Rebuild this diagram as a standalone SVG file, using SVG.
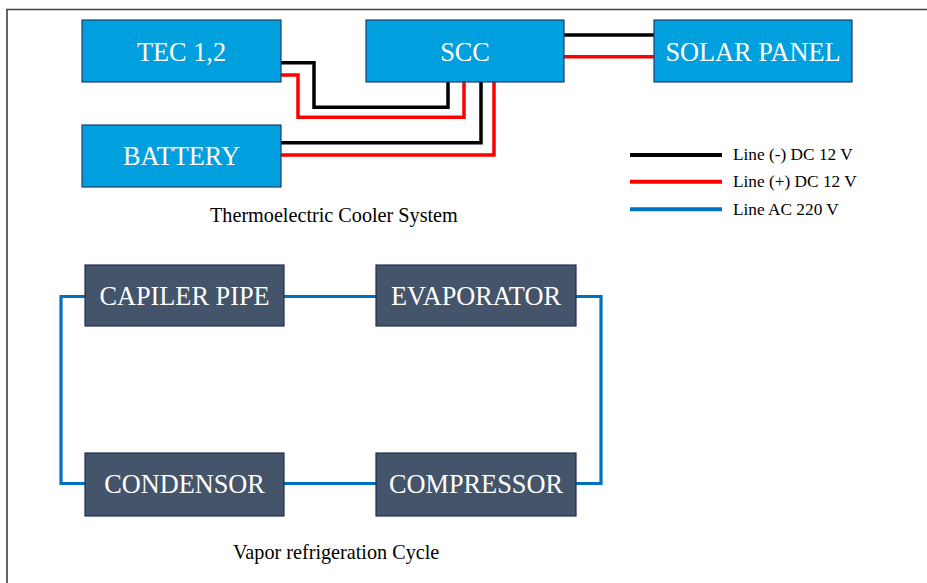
<svg xmlns="http://www.w3.org/2000/svg" width="927" height="583" viewBox="0 0 927 583">
<style>
.bg{fill:#fff}
.frame{fill:none;stroke:#404040;stroke-width:1.6}
.bbox{fill:#009FDE;stroke:#1F3F6E;stroke-width:1.2}
.dbox{fill:#44546A;stroke:#1F3055;stroke-width:1.2}
.lbl{font-family:"Liberation Serif","Times New Roman",serif;font-size:26.3px;fill:#fff;text-anchor:middle}
.cap{font-family:"Liberation Serif","Times New Roman",serif;font-size:20.2px;fill:#000}
.leg{font-family:"Liberation Serif","Times New Roman",serif;font-size:17.3px;fill:#000}
.neg{fill:none;stroke:#000;stroke-width:3.5}
.pos{fill:none;stroke:#FF0000;stroke-width:3.5}
.ac{fill:none;stroke:#0070C0;stroke-width:3.2}
</style>
<rect class="bg" x="0" y="0" width="927" height="583"/>
<path class="frame" d="M7,583 V9.5 H927"/>
<g id="connectors">
  <path class="neg" d="M281,62.7 H314 V107.3 H448 V82"/>
  <path class="pos" d="M281,75 H298 V117.3 H464 V82"/>
  <path class="neg" d="M281,142.7 H481 V82"/>
  <path class="pos" d="M281,155 H494 V82"/>
  <path class="neg" d="M564,35 H654"/>
  <path class="pos" d="M564,56.7 H654"/>
  <path class="ac" d="M85,296.5 H61 V483.5 H85"/>
  <path class="ac" d="M284,296.5 H376"/>
  <path class="ac" d="M576,296.5 H601 V483.5 H576"/>
  <path class="ac" d="M284,483.5 H376"/>
</g>
<g id="tec"><rect class="bbox" x="82" y="20" width="199" height="62"/><text class="lbl" x="181.5" y="60.5">TEC 1,2</text></g>
<g id="scc"><rect class="bbox" x="366" y="20" width="198" height="62"/><text class="lbl" x="465" y="60.5">SCC</text></g>
<g id="solar"><rect class="bbox" x="654" y="20" width="198" height="62"/><text class="lbl" x="753" y="60.5">SOLAR PANEL</text></g>
<g id="battery"><rect class="bbox" x="82" y="125" width="199" height="62"/><text class="lbl" x="181.5" y="165">BATTERY</text></g>
<g id="legend">
  <line class="neg" x1="630" y1="155" x2="722" y2="155" style="stroke-width:4"/>
  <line class="pos" x1="630" y1="181.7" x2="722" y2="181.7" style="stroke-width:4"/>
  <line class="ac" x1="630" y1="209.3" x2="722" y2="209.3" style="stroke-width:4"/>
  <text class="leg" x="733" y="160">Line (-) DC 12 V</text>
  <text class="leg" x="733" y="187">Line (+) DC 12 V</text>
  <text class="leg" x="733" y="215">Line AC 220 V</text>
</g>
<text id="cap1" class="cap" x="210" y="222">Thermoelectric Cooler System</text>
<g id="capiler"><rect class="dbox" x="85" y="265" width="199" height="61"/><text class="lbl" x="184.5" y="305">CAPILER PIPE</text></g>
<g id="evaporator"><rect class="dbox" x="376" y="265" width="200" height="61"/><text class="lbl" x="476" y="305">EVAPORATOR</text></g>
<g id="condensor"><rect class="dbox" x="85" y="453" width="199" height="63"/><text class="lbl" x="184.5" y="493">CONDENSOR</text></g>
<g id="compressor"><rect class="dbox" x="376" y="453" width="200" height="63"/><text class="lbl" x="476" y="493">COMPRESSOR</text></g>
<text id="cap2" class="cap" x="233" y="559">Vapor refrigeration Cycle</text>
</svg>
